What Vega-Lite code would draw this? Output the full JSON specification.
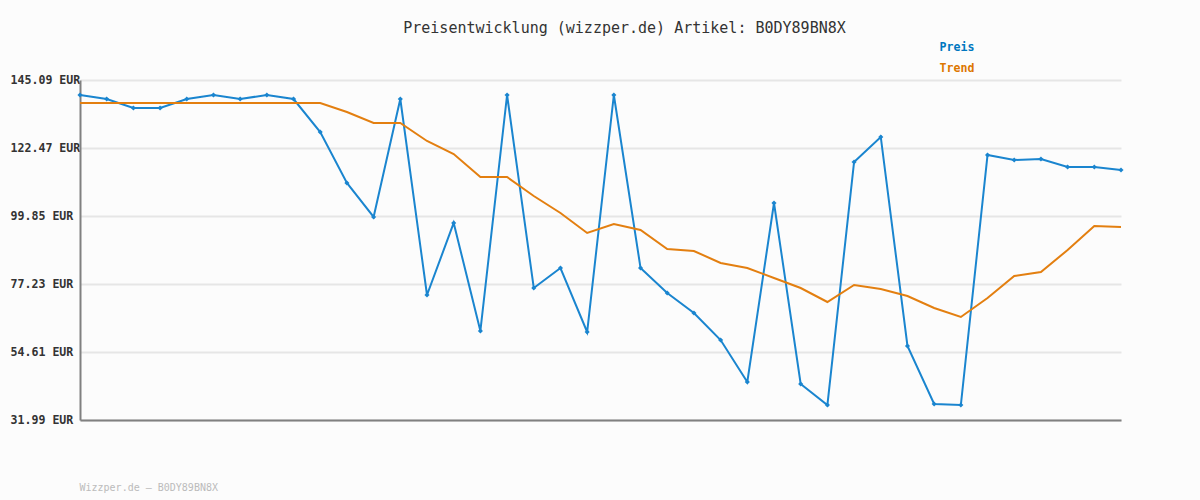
{"$schema":"https://vega.github.io/schema/vega-lite/v6.json","width":1041,"height":340,"autosize":"none","padding":{"left":80,"top":80,"right":79,"bottom":80},"background":"#fcfcfc","title":{"text":"Preisentwicklung (wizzper.de) Artikel: B0DY89BN8X","anchor":"middle","dx":24,"offset":6,"font":"DejaVu Sans Mono","fontSize":15,"fontWeight":"normal","color":"#333333"},"config":{"view":{"stroke":null},"font":"DejaVu Sans Mono"},"data":{"values":[
{"i":0,"s":"Preis","p":140.10},{"i":1,"s":"Preis","p":138.77},{"i":2,"s":"Preis","p":135.78},{"i":3,"s":"Preis","p":135.78},{"i":4,"s":"Preis","p":138.77},{"i":5,"s":"Preis","p":140.10},{"i":6,"s":"Preis","p":138.77},{"i":7,"s":"Preis","p":140.10},{"i":8,"s":"Preis","p":138.77},{"i":9,"s":"Preis","p":127.79},{"i":10,"s":"Preis","p":110.83},{"i":11,"s":"Preis","p":99.52},{"i":12,"s":"Preis","p":138.77},{"i":13,"s":"Preis","p":73.57},{"i":14,"s":"Preis","p":97.52},{"i":15,"s":"Preis","p":61.60},{"i":16,"s":"Preis","p":140.10},{"i":17,"s":"Preis","p":75.90},{"i":18,"s":"Preis","p":82.55},{"i":19,"s":"Preis","p":61.26},{"i":20,"s":"Preis","p":140.10},{"i":21,"s":"Preis","p":82.55},{"i":22,"s":"Preis","p":74.24},{"i":23,"s":"Preis","p":67.58},{"i":24,"s":"Preis","p":58.60},{"i":25,"s":"Preis","p":44.63},{"i":26,"s":"Preis","p":104.18},{"i":27,"s":"Preis","p":43.97},{"i":28,"s":"Preis","p":36.98},{"i":29,"s":"Preis","p":117.81},{"i":30,"s":"Preis","p":126.13},{"i":31,"s":"Preis","p":56.61},{"i":32,"s":"Preis","p":37.31},{"i":33,"s":"Preis","p":36.98},{"i":34,"s":"Preis","p":120.14},{"i":35,"s":"Preis","p":118.48},{"i":36,"s":"Preis","p":118.81},{"i":37,"s":"Preis","p":116.15},{"i":38,"s":"Preis","p":116.15},{"i":39,"s":"Preis","p":115.15},
{"i":0,"s":"Trend","p":137.44},{"i":1,"s":"Trend","p":137.44},{"i":2,"s":"Trend","p":137.44},{"i":3,"s":"Trend","p":137.44},{"i":4,"s":"Trend","p":137.44},{"i":5,"s":"Trend","p":137.44},{"i":6,"s":"Trend","p":137.44},{"i":7,"s":"Trend","p":137.44},{"i":8,"s":"Trend","p":137.44},{"i":9,"s":"Trend","p":137.44},{"i":10,"s":"Trend","p":134.45},{"i":11,"s":"Trend","p":130.79},{"i":12,"s":"Trend","p":130.79},{"i":13,"s":"Trend","p":124.80},{"i":14,"s":"Trend","p":120.47},{"i":15,"s":"Trend","p":112.82},{"i":16,"s":"Trend","p":112.82},{"i":17,"s":"Trend","p":106.50},{"i":18,"s":"Trend","p":100.85},{"i":19,"s":"Trend","p":94.20},{"i":20,"s":"Trend","p":97.19},{"i":21,"s":"Trend","p":95.19},{"i":22,"s":"Trend","p":88.87},{"i":23,"s":"Trend","p":88.21},{"i":24,"s":"Trend","p":84.22},{"i":25,"s":"Trend","p":82.55},{"i":26,"s":"Trend","p":79.23},{"i":27,"s":"Trend","p":75.90},{"i":28,"s":"Trend","p":71.24},{"i":29,"s":"Trend","p":76.90},{"i":30,"s":"Trend","p":75.57},{"i":31,"s":"Trend","p":73.24},{"i":32,"s":"Trend","p":69.25},{"i":33,"s":"Trend","p":66.25},{"i":34,"s":"Trend","p":72.57},{"i":35,"s":"Trend","p":79.89},{"i":36,"s":"Trend","p":81.22},{"i":37,"s":"Trend","p":88.54},{"i":38,"s":"Trend","p":96.52},{"i":39,"s":"Trend","p":96.19}
]},"encoding":{"x":{"field":"i","type":"quantitative","scale":{"domain":[0,39],"nice":false,"zero":false},"axis":{"labels":false,"ticks":false,"grid":false,"domainColor":"#808080","domainWidth":2,"title":"Wizzper.de – B0DY89BN8X","titleAnchor":"start","titleX":-1,"titleFont":"DejaVu Sans Mono","titleFontSize":10,"titleFontWeight":"normal","titleColor":"#bbbbbb","titlePadding":62}},"y":{"field":"p","type":"quantitative","scale":{"domain":[31.99,145.09],"nice":false,"zero":false},"axis":{"values":[31.99,54.61,77.23,99.85,122.47,145.09],"labelExpr":"format(datum.value,'.2f')+' EUR'","title":null,"ticks":false,"tickSize":0,"labelPadding":70,"labelAlign":"left","labelBaseline":"middle","labelFont":"DejaVu Sans Mono","labelFontSize":11.6,"labelFontWeight":"bold","labelColor":"#333333","labelBound":false,"labelOverlap":false,"grid":true,"gridColor":"#e6e6e6","gridWidth":2,"domainColor":"#808080","domainWidth":2}},"color":{"field":"s","type":"nominal","scale":{"domain":["Preis","Trend"],"range":["#1a85cf","#e37f10"]},"legend":{"title":null,"orient":"none","legendX":848,"legendY":-38,"symbolSize":0,"symbolStrokeWidth":0,"symbolOpacity":0,"labelOffset":0,"rowPadding":8,"labelFont":"DejaVu Sans Mono","labelFontSize":11.6,"labelFontWeight":"bold","labelColor":{"expr":"datum.label=='Preis'?'#0077c0':'#dd7700'"}}}},"layer":[{"transform":[{"filter":"datum.s=='Preis'"}],"mark":{"type":"line","strokeWidth":2,"clip":false}},{"transform":[{"filter":"datum.s=='Preis'"}],"mark":{"type":"point","shape":"diamond","filled":true,"size":26,"opacity":1,"color":"#0077c0","clip":false},"encoding":{"color":{"field":"s","type":"nominal","legend":null,"scale":{"domain":["Preis","Trend"],"range":["#0077c0","#dd7700"]}}}},{"transform":[{"filter":"datum.s=='Trend'"}],"mark":{"type":"line","strokeWidth":2,"clip":false}}]}
